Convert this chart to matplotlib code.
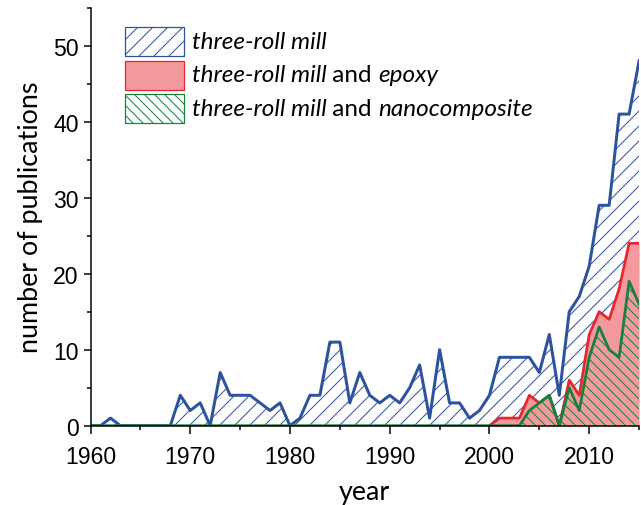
import numpy as np
import matplotlib
matplotlib.use("Agg")
import matplotlib.pyplot as plt
from matplotlib.patches import Rectangle
from matplotlib.ticker import MultipleLocator

# publications per year, 1960-2015
years = np.arange(1960, 2016)
mill = [0, 0, 1, 0, 0, 0, 0, 0, 0, 4,
        2, 3, 0, 7, 4, 4, 4, 3, 2, 3,
        0, 1, 4, 4, 11, 11, 3, 7, 4, 3,
        4, 3, 5, 8, 1, 10, 3, 3, 1, 2,
        4, 9, 9, 9, 9, 7, 12, 4, 15, 17,
        21, 29, 29, 41, 41, 48]

epoxy_years = np.arange(2000, 2016)
epoxy = [0, 1, 1, 1, 4, 3, 4, 0, 6, 4, 12, 15, 14, 18, 24, 24]

nano = [0] * 44 + [2, 3, 4, 0, 5, 2, 9, 13, 10, 9, 19, 16]

# legend entries as (text, italic?) pieces
labels = [
    [("three-roll mill", True)],
    [("three-roll mill", True), (" and ", False), ("epoxy", True)],
    [("three-roll mill", True), (" and ", False), ("nanocomposite", True)],
]

blue = "#2d52a0"
red = "#e8262d"
pink = "#f4999d"
green = "#17803c"
LATO = ["Lato", "DejaVu Sans"]

DPI = 90
W, H = 641, 506
plt.rcParams["hatch.linewidth"] = 0.8
plt.rcParams["font.family"] = ["Liberation Sans", "DejaVu Sans"]

fig = plt.figure(figsize=(W / DPI, H / DPI), dpi=DPI)
ax = fig.add_axes([0.1412, 0.1567, 0.8558, 0.8261])

ax.fill_between(years, mill, 0, facecolor="white", edgecolor=blue,
                hatch="//", linewidth=0, zorder=1)
ax.plot(years, mill, color=blue, lw=2.4, zorder=2)

ax.fill_between(epoxy_years, epoxy, 0, facecolor=pink, edgecolor=pink,
                linewidth=0, zorder=3)
ax.plot(epoxy_years, epoxy, color=red, lw=2.2, zorder=4)

ax.fill_between(years, nano, 0, facecolor="none", edgecolor=green,
                hatch="\\\\\\", linewidth=0, zorder=5)
ax.plot(years, nano, color=green, lw=2.2, zorder=6)

ax.set_xlim(1960, 2015)
ax.set_ylim(0, 55)
ax.xaxis.set_major_locator(MultipleLocator(10))
ax.xaxis.set_minor_locator(MultipleLocator(5))
ax.yaxis.set_minor_locator(MultipleLocator(5))
ax.set_yticks([0, 10, 20, 30, 40, 50])

for s in ("top", "right"):
    ax.spines[s].set_visible(False)
for s in ("left", "bottom"):
    ax.spines[s].set_linewidth(1.2)
    ax.spines[s].set_zorder(7)

ax.tick_params(which="major", length=6, width=1.2, labelsize=18.4)
ax.tick_params(which="minor", length=3.5, width=1.2)
ax.tick_params(axis="x", which="major", pad=9.5)
ax.tick_params(axis="y", which="major", pad=3.5)

ax.set_xlabel("year", family=LATO, fontsize=21.5, labelpad=9)
ax.set_ylabel("number of publications", family=LATO, fontsize=21.5,
              labelpad=8)

# legend, laid out by hand in pixels from the top-left corner
swatches = [
    dict(facecolor="white", edgecolor=blue, hatch="//"),
    dict(facecolor=pink, edgecolor=red),
    dict(facecolor="white", edgecolor=green, hatch="\\\\\\"),
]
key_x, key_w, key_h = 125, 59, 29
key_tops = [27.7, 61.5, 94.5]

fig.canvas.draw()
for sw, top, pieces in zip(swatches, key_tops, labels):
    fig.add_artist(Rectangle((key_x / W, 1 - (top + key_h) / H),
                             key_w / W, key_h / H, lw=1,
                             transform=fig.transFigure, **sw))
    x0 = key_x + key_w + 7.5
    yc = 1 - (top + key_h / 2) / H
    for word, italic in pieces:
        t = fig.text(x0 / W, yc, word, family=LATO,
                     style="italic" if italic else "normal",
                     fontsize=19.4, va="center", ha="left")
        fig.canvas.draw()
        x0 = t.get_window_extent().x1

fig.savefig("out.png", dpi=DPI)
